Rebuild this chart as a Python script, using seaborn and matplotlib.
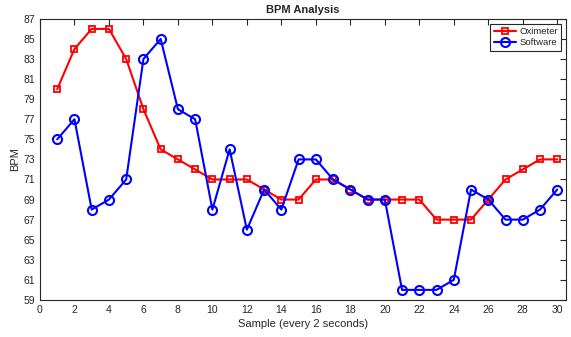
import numpy as np
import pandas as pd
import seaborn as sns
import matplotlib
matplotlib.use("Agg")
import matplotlib.pyplot as plt

# 数据: 每2秒一个样本
samples = list(range(1, 31))
oximeter = [80, 84, 86, 86, 83, 78, 74, 73, 72, 71, 71, 71, 70, 69, 69,
            71, 71, 70, 69, 69, 69, 69, 67, 67, 67, 69, 71, 72, 73, 73]
software = [75, 77, 68, 69, 71, 83, 85, 78, 77, 68, 74, 66, 70, 68, 73,
            73, 71, 70, 69, 69, 60, 60, 60, 61, 70, 69, 67, 67, 68, 70]
x_ticks = list(range(0, 31, 2))
y_ticks = list(range(59, 88, 2))

sns.set_style("white")
plt.rcParams['font.family'] = ['Liberation Sans', 'DejaVu Sans']

fig = plt.figure(figsize=(5.71, 3.37), dpi=100)
ax = fig.add_axes([0.070, 0.110, 0.921, 0.834])

df = pd.DataFrame({'sample': samples, 'Oximeter': oximeter, 'Software': software})

sns.lineplot(data=df, x='sample', y='Oximeter', ax=ax, color='#ff0000', marker='s',
             markersize=5, mfc='none', mec='#ff0000', mew=1.3, linewidth=1.5, label='Oximeter')
sns.lineplot(data=df, x='sample', y='Software', ax=ax, color='#0000ff', marker='o',
             markersize=6.5, mfc='none', mec='#0000ff', mew=1.5, linewidth=1.5, label='Software')

ax.set_xlim(0, 30.5)
ax.set_ylim(59, 87)
ax.set_xticks(x_ticks)
ax.set_yticks(y_ticks)
ax.tick_params(direction='in', top=True, right=True, labelsize=7.5,
               colors='#262626', length=4, width=0.8)
for s in ax.spines.values():
    s.set_color('#262626')
    s.set_linewidth(0.8)

ax.set_xlabel('Sample (every 2 seconds)', fontsize=8, color='#262626', labelpad=3)
ax.set_ylabel('BPM', fontsize=8, color='#262626', labelpad=2)
ax.set_title('BPM Analysis', fontsize=8, fontweight='bold', pad=4)

leg = ax.legend(loc='upper right', fontsize=6.8, fancybox=False, framealpha=1,
                edgecolor='#262626', borderpad=0.35, handlelength=2.4,
                handletextpad=0.3, labelspacing=0.25, borderaxespad=0.5)
leg.get_frame().set_linewidth(0.8)

fig.savefig('out.png', dpi=100)
